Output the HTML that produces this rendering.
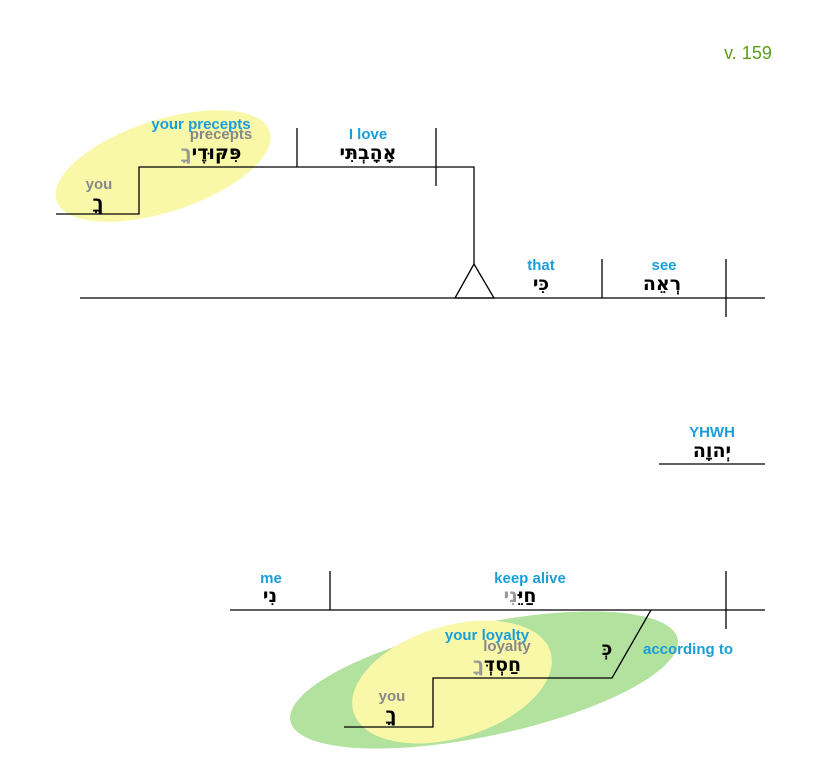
<!DOCTYPE html>
<html><head><meta charset="utf-8"><style>
html,body{margin:0;padding:0;background:#fff}
svg{display:block}
.b{fill:#1a9ed9;font:bold 15px "Liberation Sans",sans-serif;text-anchor:middle}
.g{fill:#888;font:bold 15px "Liberation Sans",sans-serif;text-anchor:middle}
.h{fill:#000;font:bold 19px "DejaVu Sans","Liberation Sans",sans-serif;text-anchor:middle}
.hg{fill:#999}
line,polyline{stroke:#000;stroke-width:1.3;fill:none}
</style></head><body>
<svg width="825" height="773" viewBox="0 0 825 773" xmlns="http://www.w3.org/2000/svg">
<text x="748" y="59" style="fill:#5a9e1a;font:18px 'Liberation Sans',sans-serif;text-anchor:middle">v. 159</text>
<ellipse cx="163" cy="166" rx="112" ry="46" transform="rotate(-18 163 166)" fill="#f9f8a8"/>
<polyline points="56,214 139,214 139,167 474,167 474,264"/>
<line x1="297" y1="128" x2="297" y2="167"/>
<line x1="436" y1="128" x2="436" y2="186"/>
<polyline points="474,264 455,298 494,298 474,264"/>
<line x1="80" y1="298" x2="765" y2="298"/>
<line x1="602" y1="259" x2="602" y2="298"/>
<line x1="726" y1="259" x2="726" y2="317"/>
<text class="b" x="201" y="129">your precepts</text>
<text class="g" x="221" y="139">precepts</text>
<text class="h" x="211" y="159">פִּקּוּדֶי<tspan class="hg">ךָ</tspan></text>
<text class="g" x="99" y="189">you</text>
<text class="h" x="98" y="209">ךָ</text>
<text class="b" x="368" y="139">I love</text>
<text class="h" x="368" y="159">אָהָבְתִּי</text>
<text class="b" x="541" y="270">that</text>
<text class="h" x="541" y="290">כִּי</text>
<text class="b" x="664" y="270">see</text>
<text class="h" x="662" y="290">רְאֵה</text>
<text class="b" x="712" y="437">YHWH</text>
<text class="h" x="712" y="457">יְהוָה</text>
<line x1="659" y1="464" x2="765" y2="464"/>
<ellipse cx="484" cy="680" rx="198" ry="56" transform="rotate(-12 484 680)" fill="#b3e19e"/>
<ellipse cx="452" cy="682" rx="103" ry="56" transform="rotate(-17 452 682)" fill="#f9f8a8"/>
<line x1="230" y1="610" x2="765" y2="610"/>
<line x1="330" y1="571" x2="330" y2="610"/>
<line x1="726" y1="571" x2="726" y2="629"/>
<polyline points="651,610 612,678 433,678 433,727 344,727"/>
<text class="b" x="271" y="583">me</text>
<text class="h" x="270" y="602">נִי</text>
<text class="b" x="530" y="583">keep alive</text>
<text class="h" x="520" y="602">חַיֵּ<tspan class="hg">נִי</tspan></text>
<text class="b" x="487" y="640">your loyalty</text>
<text class="g" x="507" y="651">loyalty</text>
<text class="h" x="497" y="671">חַסְדְּ<tspan class="hg">ךָ</tspan></text>
<text class="h" x="607" y="655">כְּ</text>
<text class="b" x="688" y="654">according to</text>
<text class="g" x="392" y="701">you</text>
<text class="h" x="391" y="721">ךָ</text>
</svg>
</body></html>
